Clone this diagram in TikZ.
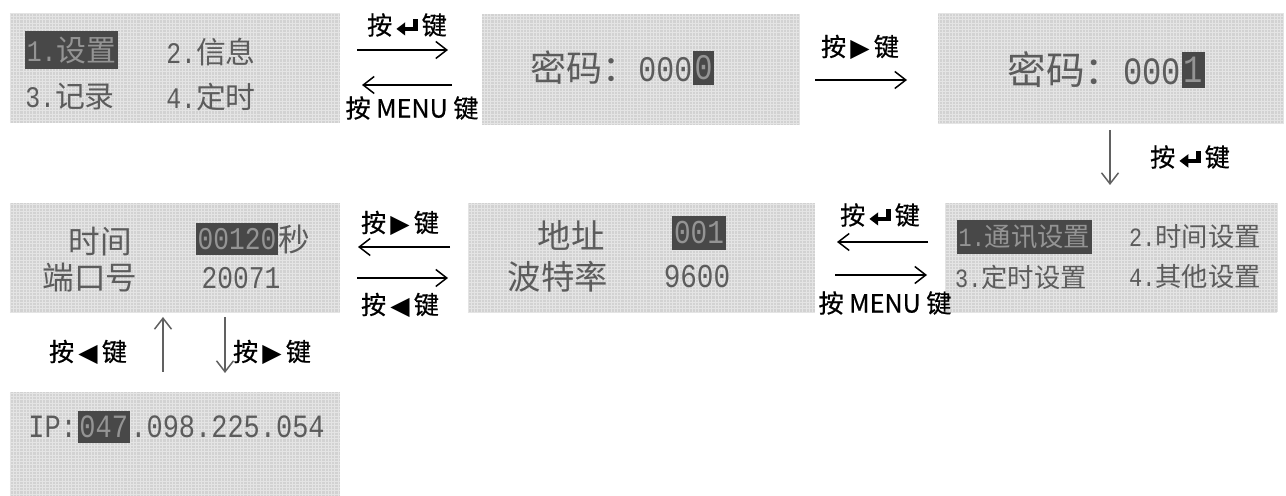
\documentclass[tikz,border=0pt]{standalone}
\usepackage{fontspec}
\usepackage{tikz}
\usetikzlibrary{shapes,arrows,arrows.meta}
\setmainfont{Noto Sans CJK SC}
\newfontfamily\keyfont{Noto Sans CJK SC}[FakeBold=0.6]
\newfontfamily\lcdcjk{Noto Sans CJK SC}
\newfontfamily\lcdnum{Liberation Mono}[FakeStretch=0.83]
\newfontfamily\symfont{DejaVu Sans}
\definecolor{lcdback}{RGB}{210,210,210}
\definecolor{lcdline}{RGB}{228,228,228}
\definecolor{lcdink}{RGB}{92,92,92}
\definecolor{lcdmark}{RGB}{72,72,72}
\newcommand{\retkey}{\,\tikz[baseline=0pt]{\fill (0pt,3.2pt) -- (5pt,7pt) -- (5pt,-0.6pt) -- cycle; \fill (4.5pt,1.9pt) rectangle (12pt,4.5pt); \fill (9.4pt,1.9pt) rectangle (12pt,9pt);}\,}
\newcommand{\rkey}{\,{\symfont ▶}\,}
\newcommand{\lkey}{\,{\symfont ◀}\,}

\begin{document}
\begin{tikzpicture}[x=0.02cm,y=-0.02cm,
		screen/.style 2 args={fill=lcdback, inner sep=0pt, minimum width=#1*0.02cm, minimum height=#2*0.02cm},
		lcd/.style={text=lcdink, inner sep=0pt, font=\lcdcjk\fontsize{#1}{#1}\selectfont},
		lcdsel/.style={lcd=#1, fill=lcdmark, text=black!42, inner xsep=1pt, inner ysep=3pt},
		key/.style={-{Straight Barb[length=2.2mm,width=3.4mm]}, line width=0.85pt},
		keyv/.style={key, black!62},
		keylabel/.style={inner sep=0pt, font=\keyfont\fontsize{14.3}{16}\selectfont}]
		\useasboundingbox (0,0) rectangle (1286,496);
		% screens
		\node[screen={330}{110}] (menu) at (175,68) {};
		\node[screen={318}{111}] (pwa) at (641,69.5) {};
		\node[screen={346}{111}] (pwb) at (1111,68.5) {};
		\node[screen={332}{109}] (comm) at (1111,257.5) {};
		\node[screen={347}{109}] (addr) at (641.5,257.5) {};
		\node[screen={330}{109}] (time) at (175,257.5) {};
		\node[screen={330}{104}] (ip) at (175,444) {};
		\foreach \s in {menu,pwa,pwb,comm,addr,time,ip}
			\draw[lcdline, line width=0.25pt] (\s.north west) grid[step=0.065cm] (\s.south east);
		% main menu
		\node[lcdsel=17] (menuset) at (71.5,50) {{\lcdnum 1.}设置};
		\node[lcd=17] (menuinfo) at (211,52) {{\lcdnum 2.}信息};
		\node[lcd=17] (menulog) at (70,97) {{\lcdnum 3.}记录};
		\node[lcd=17] (menutimer) at (211,97) {{\lcdnum 4.}定时};
		% password
		\node[lcd=20.5, anchor=west] (pwatext) at (530,68) {密码：{\lcdnum 000}};
		\node[lcdsel=20.5, anchor=west] (pwacur) at (pwatext.east) {\lcdnum 0};
		\node[lcd=22, anchor=west] (pwbtext) at (1007,70) {密码：{\lcdnum 000}};
		\node[lcdsel=22, anchor=west] (pwbcur) at (pwbtext.east) {\lcdnum 1};
		% settings menu
		\node[lcdsel=15] (commsel) at (1024.5,237) {{\lcdnum 1.}通讯设置};
		\node[lcd=15] (commtime) at (1195,237) {{\lcdnum 2.}时间设置};
		\node[lcd=15] (commtimer) at (1021,277) {{\lcdnum 3.}定时设置};
		\node[lcd=15] (commother) at (1195,277) {{\lcdnum 4.}其他设置};
		% address / baud
		\node[lcd=19] (addrname) at (571,235) {地址};
		\node[lcdsel=19] (addrval) at (699,233) {\lcdnum 001};
		\node[lcd=19] (baudname) at (558,277) {波特率};
		\node[lcd=19] (baudval) at (697,277) {\lcdnum 9600};
		% time / port
		\node[lcd=18] (timename) at (100,242) {时间};
		\node[lcdsel=18] (timeval) at (237,239) {\lcdnum 00120};
		\node[lcd=18, anchor=west] (timeunit) at (timeval.east) {秒};
		\node[lcd=18] (portname) at (90,278) {端口号};
		\node[lcd=18] (portval) at (241,278) {\lcdnum 20071};
		% ip
		\node[lcd=18.5, anchor=west] (iphead) at (28,427) {\lcdnum IP:};
		\node[lcdsel=18.5, anchor=west] (ipsel) at (iphead.east) {\lcdnum 047};
		\node[lcd=18.5, anchor=west] (iptail) at (ipsel.east) {\lcdnum .098.225.054};
		% keys and arrows
		\node[keylabel] (kmp) at (407,25) {按\retkey 键};
		\coordinate (mp1) at (357,50); \coordinate (mp2) at (448,50);
		\draw[key] (mp1) -- (mp2);
		\node[keylabel] (kpm) at (412,108) {按 MENU 键};
		\coordinate (pm1) at (452,85); \coordinate (pm2) at (362,85);
		\draw[key] (pm1) -- (pm2);
		\node[keylabel] (kpp) at (860,47) {按\rkey 键};
		\coordinate (pp1) at (815,80); \coordinate (pp2) at (907,80);
		\draw[key] (pp1) -- (pp2);
		\node[keylabel] (kpc) at (1190,157) {按\retkey 键};
		\coordinate (pc1) at (1110,130); \coordinate (pc2) at (1110,185);
		\draw[keyv] (pc1) -- (pc2);
		\node[keylabel] (kca) at (880,215) {按\retkey 键};
		\coordinate (ca1) at (928,242); \coordinate (ca2) at (837,242);
		\draw[key] (ca1) -- (ca2);
		\node[keylabel] (kac) at (885,303) {按 MENU 键};
		\coordinate (ac1) at (835,275); \coordinate (ac2) at (927,275);
		\draw[key] (ac1) -- (ac2);
		\node[keylabel] (kat) at (400,223) {按\rkey 键};
		\coordinate (at1) at (450,247); \coordinate (at2) at (358,247);
		\draw[key] (at1) -- (at2);
		\node[keylabel] (kta) at (400,305) {按\lkey 键};
		\coordinate (ta1) at (357,278); \coordinate (ta2) at (448,278);
		\draw[key] (ta1) -- (ta2);
		\node[keylabel] (kit) at (88,352) {按\lkey 键};
		\coordinate (it1) at (163,372); \coordinate (it2) at (163,317);
		\draw[keyv] (it1) -- (it2);
		\node[keylabel] (kti) at (272,352) {按\rkey 键};
		\coordinate (ti1) at (225,317); \coordinate (ti2) at (225,373);
		\draw[keyv] (ti1) -- (ti2);
	\end{tikzpicture}
\end{document}
